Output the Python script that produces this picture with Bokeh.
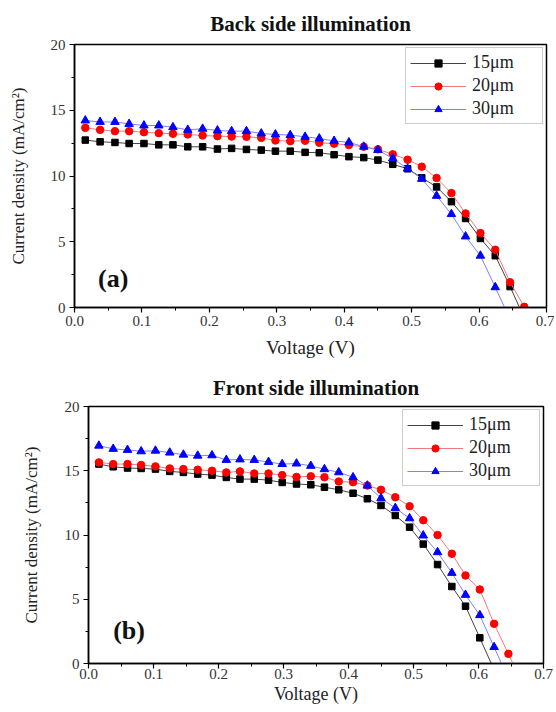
from bokeh.plotting import figure
from bokeh.layouts import column, row
from bokeh.models import Range1d, FixedTicker, PrintfTickFormatter, Label, Spacer
from bokeh.embed import file_html
from bokeh.resources import INLINE

# ---------------- data ----------------
voltage = [0.016, 0.038, 0.060, 0.081, 0.103, 0.125, 0.146, 0.168, 0.190, 0.212,
           0.233, 0.255, 0.277, 0.298, 0.320, 0.342, 0.363, 0.385, 0.407, 0.429,
           0.450, 0.472, 0.494, 0.515, 0.537, 0.559, 0.580, 0.602, 0.624, 0.646, 0.667]

series_names = ["15\u03bcm", "20\u03bcm", "30\u03bcm"]

# (a) Back side illumination
back_15 = [12.73, 12.60, 12.55, 12.47, 12.47, 12.37, 12.37, 12.22, 12.22, 12.05,
           12.10, 12.02, 11.97, 11.89, 11.89, 11.80, 11.77, 11.62, 11.47, 11.40,
           11.21, 10.89, 10.55, 9.87, 9.17, 8.05, 6.77, 5.25, 3.94, 1.59, -0.8]
back_20 = [13.66, 13.51, 13.41, 13.41, 13.33, 13.26, 13.21, 13.16, 13.08, 13.03,
           13.00, 12.98, 12.90, 12.70, 12.65, 12.68, 12.53, 12.46, 12.35, 12.23,
           12.03, 11.65, 11.24, 10.71, 9.85, 8.70, 7.15, 5.66, 4.39, 1.92, 0.05]
back_30 = [14.22, 14.11, 14.11, 13.96, 13.84, 13.84, 13.71, 13.51, 13.59, 13.46,
           13.41, 13.41, 13.23, 13.16, 13.11, 12.98, 12.85, 12.67, 12.56, 12.23,
           11.97, 11.34, 10.56, 9.78, 8.49, 7.10, 5.40, 3.94, 1.54, -0.9]

# (b) Front side illumination
front_15 = [15.52, 15.31, 15.21, 15.18, 15.13, 14.95, 14.87, 14.74, 14.66, 14.48,
            14.35, 14.35, 14.27, 14.09, 13.97, 13.91, 13.72, 13.52, 13.25, 12.82,
            12.30, 11.52, 10.61, 9.29, 7.70, 5.99, 4.46, 2.00, -0.5]
front_20 = [15.65, 15.52, 15.52, 15.45, 15.34, 15.18, 15.13, 15.08, 15.00, 14.87,
            14.95, 14.79, 14.79, 14.66, 14.52, 14.57, 14.50, 14.16, 14.11, 13.85,
            13.52, 12.94, 12.24, 11.15, 10.00, 8.54, 6.85, 5.76, 3.09, 0.75, -1.5]
front_30 = [16.95, 16.70, 16.62, 16.51, 16.56, 16.41, 16.25, 16.17, 16.20, 15.84,
            15.88, 15.84, 15.68, 15.52, 15.56, 15.38, 15.12, 14.88, 14.49, 13.84,
            12.86, 12.10, 11.30, 9.96, 8.66, 7.05, 5.34, 3.76, 1.28, -1.2]

x_ticks = [0.0, 0.1, 0.2, 0.3, 0.4, 0.5, 0.6, 0.7]
x_minor = [0.05, 0.15, 0.25, 0.35, 0.45, 0.55, 0.65]
y_ticks = [0, 5, 10, 15, 20]
y_minor = [2.5, 7.5, 12.5, 17.5]

FONT = "Liberation Serif"
marker_color = ["#000000", "#ff0000", "#0000ff"]
line_color = ["#444444", "#f27a7a", "#7f7fff"]
markers = ["square", "circle", "triangle"]
marker_size = [6.5, 7.5, 8.5]


def make_panel(title, series, tag, width, height, borders, tag_xy, title_standoff,
               ylab_standoff, xlab_size, xlab_standoff, xtick_standoff):
    left, right, top, bottom = borders
    p = figure(width=width, height=height, output_backend="svg", toolbar_location=None,
               x_range=Range1d(0, 0.7), y_range=Range1d(0, 20),
               min_border_left=left, min_border_right=right,
               min_border_top=top, min_border_bottom=bottom,
               x_axis_label="Voltage (V)", y_axis_label="Current density (mA/cm\u00b2)")
    p.title.text = title
    p.title.align = "center"
    p.title.text_font = FONT
    p.title.text_font_style = "bold"
    p.title.text_font_size = "21px"
    p.title.text_color = "#111111"
    p.title.text_line_height = 1.0
    p.title.standoff = title_standoff
    p.grid.visible = False
    p.outline_line_color = "black"
    p.outline_line_width = 1.5
    p.background_fill_color = "white"
    p.border_fill_color = "white"

    p.xaxis.ticker = FixedTicker(ticks=x_ticks, minor_ticks=x_minor)
    p.xaxis.formatter = PrintfTickFormatter(format="%.1f")
    p.yaxis.ticker = FixedTicker(ticks=y_ticks, minor_ticks=y_minor)
    for ax in (p.xaxis, p.yaxis):
        ax.axis_line_width = 1.5
        ax.major_tick_in = 0
        ax.major_tick_out = 5
        ax.minor_tick_in = 0
        ax.minor_tick_out = 3
        ax.major_tick_line_width = 1.2
        ax.major_label_text_font = FONT
        ax.major_label_text_font_size = "15px"
        ax.major_label_text_color = "#333333"
        ax.axis_label_text_font = FONT
        ax.axis_label_text_font_style = "normal"
        ax.axis_label_text_color = "#222222"
    p.xaxis.major_label_standoff = xtick_standoff
    p.xaxis.axis_label_text_font_size = xlab_size
    p.xaxis.axis_label_standoff = xlab_standoff
    p.yaxis.axis_label_text_font_size = "17px"
    p.yaxis.axis_label_standoff = ylab_standoff
    p.yaxis.major_label_standoff = 4

    for i, ys in enumerate(series):
        xs = voltage[:len(ys)]
        p.line(xs, ys, line_color=line_color[i], line_width=1, legend_label=series_names[i])
        p.scatter(xs, ys, marker=markers[i], size=marker_size[i], fill_color=marker_color[i],
                  line_color=marker_color[i], legend_label=series_names[i])

    lg = p.legend[0]
    lg.location = "top_right"
    lg.margin = 3
    lg.padding = 4
    lg.spacing = 2
    lg.glyph_width = 56
    lg.glyph_height = 18
    lg.label_height = 18
    lg.label_width = 66
    lg.label_standoff = 6
    lg.label_text_font = FONT
    lg.label_text_font_size = "18px"
    lg.label_text_color = "#222222"
    lg.border_line_color = "#9a9a9a"
    lg.border_line_width = 1
    lg.background_fill_alpha = 1

    p.add_layout(Label(x=tag_xy[0], y=tag_xy[1], text=tag, text_font=FONT,
                       text_font_style="bold", text_font_size="26px",
                       text_baseline="middle", text_align="left", text_color="#111111"))
    return p


p1 = make_panel("Back side illumination", [back_15, back_20, back_30], "(a)",
                554, 362, (74, 8, 44, 55), (0.035, 2.2), 18, 20, "19px", 8, 3)
p2 = make_panel("Front side illumination", [front_15, front_20, front_30], "(b)",
                542, 349, (74, 13, 44, 48), (0.038, 2.6), 14, 21, "18px", 2, 0)

layout = column(p1, row(Spacer(width=14, height=10), p2), spacing=0)

with open("out.html", "w") as f:
    f.write(file_html(layout, INLINE))
